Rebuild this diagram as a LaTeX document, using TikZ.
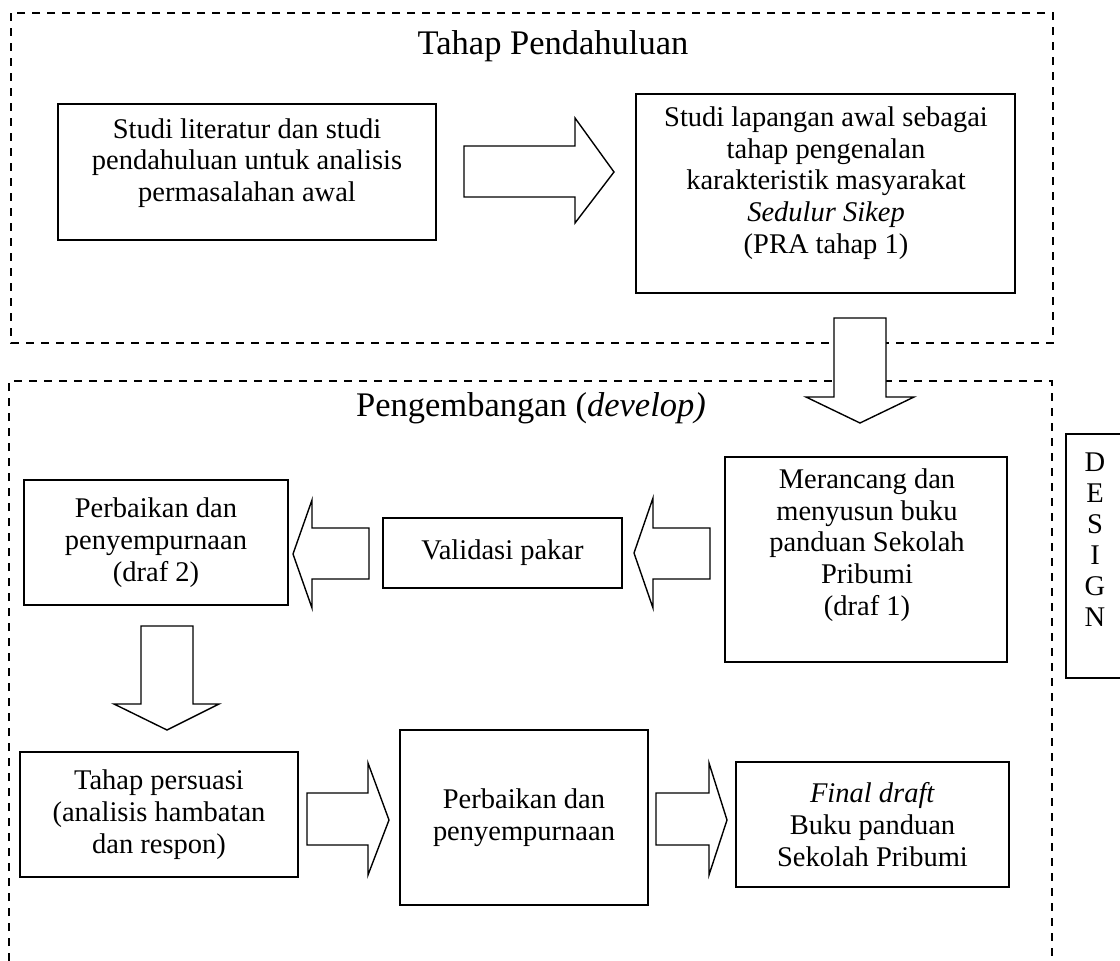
\documentclass[tikz,border=0pt]{standalone}
\usepackage{fontspec}
\setmainfont{Liberation Serif}
\begin{document}
\begin{tikzpicture}[x=1pt,y=-1pt,
  box/.style={draw,line width=1.5pt,inner sep=0pt,fill=white},
  txt/.style={align=center,inner sep=0pt,font=\fontsize{28.5}{31.7}\selectfont},
  head/.style={inner sep=0pt,anchor=base,font=\fontsize{34.5}{38}\selectfont},
  frame/.style={line width=1.3pt,dash pattern=on 8pt off 7pt},
  barrow/.style={draw,fill=white,line width=1.4pt,line join=miter}]
\useasboundingbox (0,0) rectangle (1120,961);
% dashed frames
\draw[frame] (11,13) rectangle (1053,343);
\draw[frame] (9,961) -- (9,381) -- (1052,381) -- (1052,961);
\node[head] (h1) at (553,54) {Tahap Pendahuluan};
\node[head] (h2) at (531,416) {Pengembangan (\textit{develop)}};
% top boxes
\node[box,minimum width=378pt,minimum height=136pt] (A) at (247,172) {};
\node[txt] (At) at (247,163) {Studi literatur dan studi\\pendahuluan untuk analisis\\permasalahan awal};
\node[box,minimum width=379pt,minimum height=199pt] (B) at (825.5,193.5) {};
\node[txt] (Bt) at (826,183) {Studi lapangan awal sebagai\\tahap pengenalan\\karakteristik masyarakat\\\textit{Sedulur Sikep}\\(PRA tahap 1)};
% develop boxes
\node[box,minimum width=282pt,minimum height=205pt] (C) at (866,559.5) {};
\node[txt] (Ct) at (867,545) {Merancang dan\\menyusun buku\\panduan Sekolah\\Pribumi\\(draf 1)};
\node[box,minimum width=239pt,minimum height=70pt,txt] (V) at (502.5,553) {Validasi pakar};
\node[box,minimum width=264pt,minimum height=125pt,txt] (D2) at (156,542.5) {Perbaikan dan\\penyempurnaan\\(draf 2)};
\node[box,minimum width=278pt,minimum height=125pt,txt] (P) at (159,814.5) {Tahap persuasi\\(analisis hambatan\\dan respon)};
\node[box,minimum width=248pt,minimum height=175pt,txt] (R) at (524,817.5) {Perbaikan dan\\penyempurnaan};
\node[box,minimum width=273pt,minimum height=125pt,txt] (F) at (872.5,824.5) {\textit{Final draft}\\Buku panduan\\Sekolah Pribumi};
% DESIGN
\draw[line width=1.5pt] (1124,434) -- (1066,434) -- (1066,678) -- (1124,678);
\node[txt,font=\fontsize{28.5}{31}\selectfont] (DS) at (1095,539.5) {D\\E\\S\\I\\G\\N};
% block arrows
\draw[barrow] (464,146) -- (575,146) -- (575,118) -- (614,172) -- (575,223) -- (575,197) -- (464,197) -- cycle;
\draw[barrow] (834,318) -- (886,318) -- (886,397) -- (914,397) -- (860,423) -- (806,397) -- (834,397) -- cycle;
\draw[barrow] (710,528) -- (653,528) -- (653,498) -- (634,553) -- (653,608) -- (653,579) -- (710,579) -- cycle;
\draw[barrow] (369,528) -- (312,528) -- (312,500) -- (293,554) -- (312,608) -- (312,579) -- (369,579) -- cycle;
\draw[barrow] (141,626) -- (193,626) -- (193,704) -- (219,704) -- (167,730) -- (114,704) -- (141,704) -- cycle;
\draw[barrow] (307,793) -- (368,793) -- (368,763) -- (389,820) -- (368,875) -- (368,845) -- (307,845) -- cycle;
\draw[barrow] (656,793) -- (709,793) -- (709,763) -- (727,820) -- (709,875) -- (709,845) -- (656,845) -- cycle;
\end{tikzpicture}
\end{document}
